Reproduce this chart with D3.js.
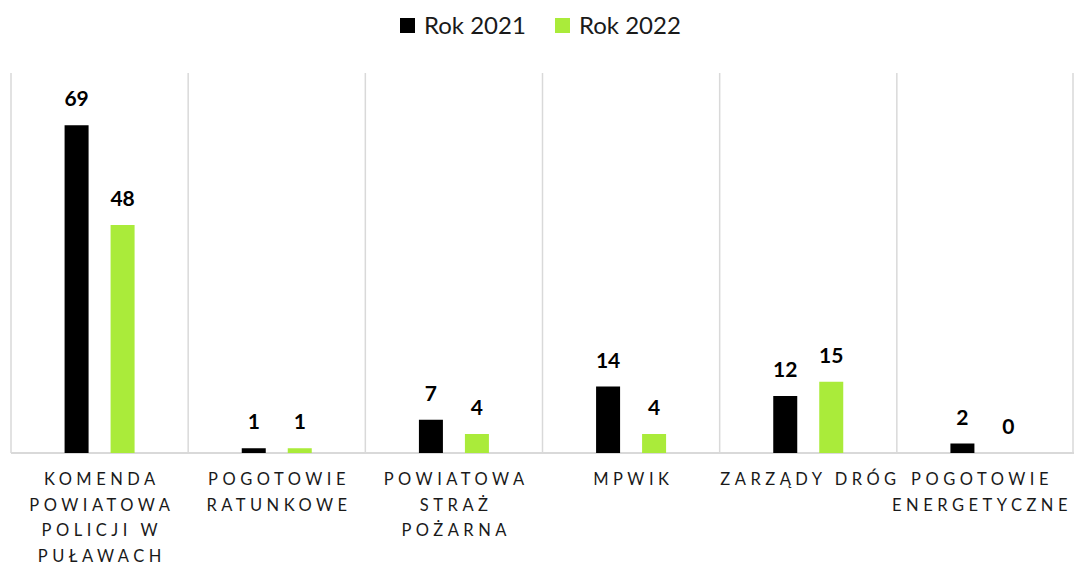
<!DOCTYPE html>
<html>
<head>
<meta charset="utf-8">
<script src="https://cdn.jsdelivr.net/npm/d3@7"></script>
<style>
  body { margin: 0; background: #fff; }
  text { font-family: Lato, "Open Sans", sans-serif; }
</style>
</head>
<body>
<div id="chart"></div>
<script>
const categories = [
  "KOMENDA POWIATOWA POLICJI W PUŁAWACH",
  "POGOTOWIE RATUNKOWE",
  "POWIATOWA STRAŻ POŻARNA",
  "MPWIK",
  "ZARZĄDY DRÓG",
  "POGOTOWIE ENERGETYCZNE"
];
const seriesNames = ["Rok 2021", "Rok 2022"];
const values2021 = [69, 1, 7, 14, 12, 2];
const values2022 = [48, 1, 4, 4, 15, 0];
const colors = ["#000000", "#aaeb3a"];

const width = 1074, height = 566;
const margin = { top: 73, right: 0, bottom: 113, left: 11 };

const svg = d3.select("#chart").append("svg")
  .attr("width", width)
  .attr("height", height);

const x0 = d3.scaleBand()
  .domain(categories)
  .range([margin.left, width - margin.right]);

const x1 = d3.scalePoint()
  .domain(seriesNames)
  .range([-23, 23]);

const y = d3.scaleLinear()
  .domain([0, 80])
  .range([height - margin.bottom, margin.top]);

const barW = 24;

// vertical separators between categories
const bounds = categories.map(c => x0(c)).concat([x0.range()[1] - 1]);
svg.append("g").selectAll("line")
  .data(bounds)
  .enter().append("line")
  .attr("x1", d => d).attr("x2", d => d)
  .attr("y1", y(80)).attr("y2", y(0))
  .attr("stroke", "#d9d9d9")
  .attr("stroke-width", 1.5);

// baseline
svg.append("line")
  .attr("x1", x0.range()[0]).attr("x2", x0.range()[1])
  .attr("y1", y(0)).attr("y2", y(0))
  .attr("stroke", "#d9d9d9")
  .attr("stroke-width", 2);

const rows = categories.map((c, i) => ({
  cat: c,
  vals: [
    { s: seriesNames[0], v: values2021[i], color: colors[0] },
    { s: seriesNames[1], v: values2022[i], color: colors[1] }
  ]
}));

const groups = svg.append("g").selectAll("g")
  .data(rows)
  .enter().append("g")
  .attr("transform", d => `translate(${x0(d.cat) + x0.bandwidth() / 2},0)`);

groups.selectAll("rect")
  .data(d => d.vals)
  .enter().append("rect")
  .attr("x", d => x1(d.s) - barW / 2)
  .attr("y", d => y(d.v))
  .attr("width", barW)
  .attr("height", d => y(0) - y(d.v))
  .attr("fill", d => d.color);

groups.selectAll("text.val")
  .data(d => d.vals)
  .enter().append("text")
  .attr("class", "val")
  .attr("x", d => x1(d.s))
  .attr("y", d => y(d.v) - 19)
  .attr("text-anchor", "middle")
  .style("font-size", "21px")
  .style("font-weight", "bold")
  .attr("fill", "#000")
  .text(d => d.v);

// category labels, wrapped
const ls = 4.5;
const labels = svg.append("g").selectAll("text")
  .data(categories)
  .enter().append("text")
  .attr("x", d => x0(d) + x0.bandwidth() / 2 + ls / 2)
  .attr("y", y(0) + 32)
  .attr("text-anchor", "middle")
  .style("font-size", "16.5px")
  .style("letter-spacing", ls + "px")
  .attr("fill", "#1a1a1a");

labels.each(function (d) {
  const t = d3.select(this);
  const words = d.split(" ");
  const maxW = 185;
  let line = [];
  let lines = [];
  const probe = t.append("tspan");
  words.forEach(w => {
    const test = line.concat([w]).join(" ");
    probe.text(test);
    if (probe.node().getComputedTextLength() > maxW && line.length) {
      lines.push(line.join(" "));
      line = [w];
    } else {
      line.push(w);
    }
  });
  lines.push(line.join(" "));
  probe.remove();
  const cx = t.attr("x");
  lines.forEach((l, i) => {
    t.append("tspan")
      .attr("x", cx)
      .attr("dy", i === 0 ? 0 : 25.5)
      .text(l);
  });
  // keep the label inside the chart's right edge
  const bb = this.getBBox();
  const over = bb.x + bb.width - (width - 2);
  if (over > 0) {
    t.selectAll("tspan").attr("x", +cx - over);
  }
});

// legend
const legend = svg.append("g");
const legX = [400, 555];
seriesNames.forEach((s, i) => {
  legend.append("rect")
    .attr("x", legX[i]).attr("y", 18)
    .attr("width", 15).attr("height", 15)
    .attr("fill", colors[i]);
  legend.append("text")
    .attr("x", legX[i] + 24).attr("y", 34)
    .style("font-size", "24px")
    .attr("fill", "#1a1a1a")
    .text(s);
});
</script>
</body>
</html>
